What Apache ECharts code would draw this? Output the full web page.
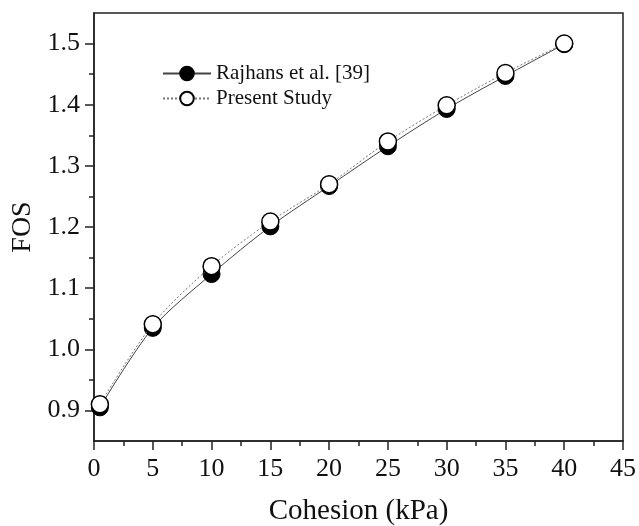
<!DOCTYPE html>
<html>
<head>
<meta charset="utf-8">
<script src="https://cdn.jsdelivr.net/npm/echarts@6/dist/echarts.min.js"></script>
<style>html,body{margin:0;padding:0;background:#fff}#c{width:639px;height:526px}</style>
</head>
<body>
<div id="c"></div>
<script>
var cohesion = [0.5, 5, 10, 15, 20, 25, 30, 35, 40];
var rajhans = [0.905, 1.035, 1.123, 1.201, 1.267, 1.332, 1.393, 1.447, 1.499];
var present = [0.910, 1.041, 1.136, 1.209, 1.270, 1.340, 1.399, 1.452, 1.500];
var yMajor = [0.9, 1.0, 1.1, 1.2, 1.3, 1.4, 1.5];
var yMinor = [0.95, 1.05, 1.15, 1.25, 1.35, 1.45];
var seriesNames = ['Rajhans et al. [39]', 'Present Study'];

var FONT = '"Liberation Serif", "Times New Roman", serif';
function pairs(xs, ys) { return xs.map(function (x, i) { return [x, ys[i]]; }); }

var chart = echarts.init(document.getElementById('c'), null, { renderer: 'canvas' });
chart.setOption({
  backgroundColor: '#fff',
  animation: false,
  grid: { left: 94, right: 16, top: 13, bottom: 85, show: true, borderColor: '#222', borderWidth: 1.5,
    containLabel: false, outerBoundsMode: 'none' },
  legend: {
    orient: 'vertical', left: 157, top: 58,
    itemWidth: 48, itemHeight: 17, itemGap: 4, itemTextGap: 6,
    textStyle: { fontFamily: FONT, fontSize: 21, color: '#111' },
    data: seriesNames
  },
  xAxis: {
    type: 'value', min: 0, max: 45, interval: 5,
    name: 'Cohesion (kPa)', nameLocation: 'middle', nameGap: 56,
    nameTextStyle: { fontFamily: FONT, fontSize: 29, color: '#111' },
    axisLine: { lineStyle: { color: '#222', width: 1.5 } },
    axisTick: { length: 9, lineStyle: { color: '#222', width: 1.5 } },
    minorTick: { show: true, splitNumber: 2, length: 5, lineStyle: { color: '#222', width: 1.5 } },
    axisLabel: { fontFamily: FONT, fontSize: 26, color: '#111', margin: 15 },
    splitLine: { show: false }, minorSplitLine: { show: false }
  },
  yAxis: [{
    type: 'value', min: 0.85, max: 1.55, interval: 0.05,
    name: 'FOS', nameLocation: 'middle', nameGap: 50, nameRotate: 90,
    nameTextStyle: { fontFamily: FONT, fontSize: 28, color: '#111' },
    axisLine: { lineStyle: { color: '#222', width: 1.5 } },
    axisTick: { length: 9, customValues: yMajor, lineStyle: { color: '#222', width: 1.5 } },
    axisLabel: { fontFamily: FONT, fontSize: 26, color: '#111', margin: 14, customValues: yMajor,
      formatter: function (v) { return v.toFixed(1); } },
    splitLine: { show: false }
  }, {
    type: 'value', min: 0.85, max: 1.55, interval: 0.05, position: 'left', offset: 0,
    axisLine: { show: false },
    axisTick: { length: 5, customValues: yMinor, lineStyle: { color: '#222', width: 1.5 } },
    axisLabel: { show: false },
    splitLine: { show: false }
  }],
  series: [{
    name: seriesNames[0], type: 'line', yAxisIndex: 0,
    data: pairs(cohesion, rajhans), smooth: 0.3,
    symbol: 'circle', symbolSize: 17,
    itemStyle: { color: '#000', borderColor: '#000', borderWidth: 1 },
    lineStyle: { color: '#444', width: 1 }, z: 2
  }, {
    name: seriesNames[1], type: 'line', yAxisIndex: 0,
    data: pairs(cohesion, present), smooth: 0.3,
    symbol: 'circle', symbolSize: 17,
    itemStyle: { color: '#fff', borderColor: '#000', borderWidth: 1.5 },
    lineStyle: { color: '#777', width: 1, type: [2, 2] }, z: 3
  }]
});
</script>
</body>
</html>
